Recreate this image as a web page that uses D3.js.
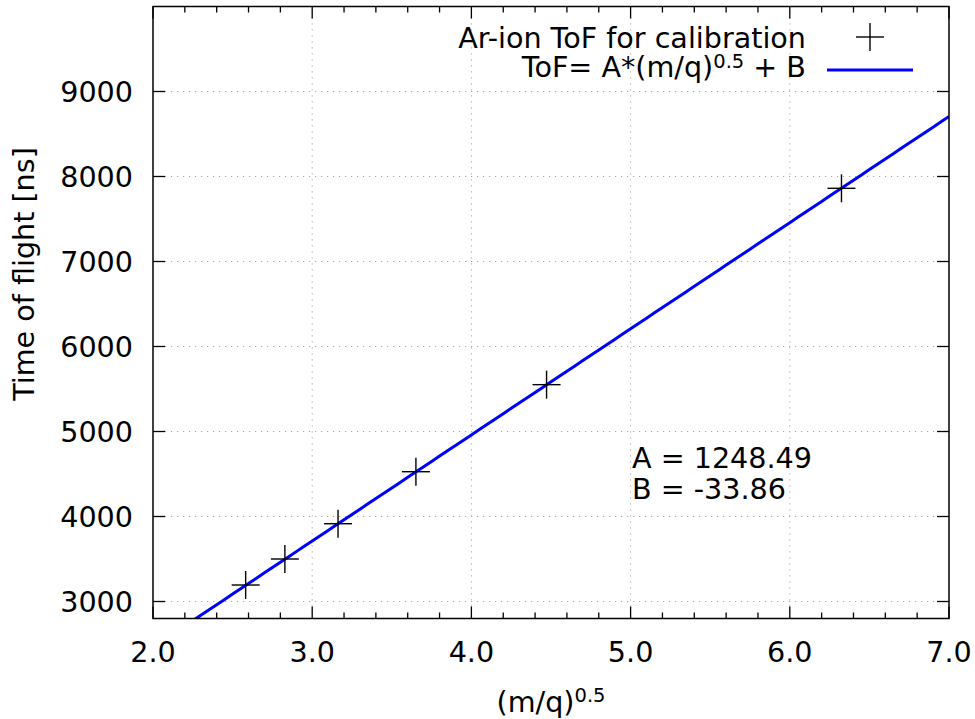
<!DOCTYPE html>
<html><head><meta charset="utf-8">
<script src="https://cdn.jsdelivr.net/npm/d3@7"></script>
<style>body{margin:0;background:#fff}svg{display:block}text{font-family:"DejaVu Sans",sans-serif;fill:#000}</style>
</head><body>
<svg id="c" width="975" height="719"></svg>
<script>
// Data
const massOverCharge = [40, 20, 40/3, 10, 8, 40/6]; // Ar ions q=1..6
const sqrtMQ = massOverCharge.map(Math.sqrt);
const tofValues = [7861, 5551, 4527, 3915, 3500, 3194];
const fitA = 1248.49, fitB = -33.86;
const xTicks = [2.0, 3.0, 4.0, 5.0, 6.0, 7.0];
const yTicks = [3000, 4000, 5000, 6000, 7000, 8000, 9000];
const xDomain = [2, 7], yDomain = [2800, 10000];

const svg = d3.select("#c");
const L = 153, R = 949, T = 6.5, B = 618.5;
const x = d3.scaleLinear().domain(xDomain).range([L, R]);
const y = d3.scaleLinear().domain(yDomain).range([B, T]);
const FS = 28.6;

// grid
const grid = svg.append("g").attr("stroke", "#a8a8a8").attr("stroke-width", 1).attr("stroke-dasharray", "1.2,4.8");
xTicks.slice(1, -1).forEach(v => grid.append("line").attr("x1", x(v)).attr("x2", x(v)).attr("y1", B).attr("y2", T));
yTicks.forEach(v => grid.append("line").attr("x1", L).attr("x2", R).attr("y1", y(v)).attr("y2", y(v)));

// ticks (inward, mirrored)
const minorX = d3.range(2, 7.0001, 0.2).filter(v => Math.abs(v - Math.round(v)) > 1e-6);
const tk = svg.append("g").attr("stroke", "#000").attr("stroke-width", 1.3);
xTicks.forEach(v => {
  tk.append("line").attr("x1", x(v)).attr("x2", x(v)).attr("y1", B).attr("y2", B - 12);
  tk.append("line").attr("x1", x(v)).attr("x2", x(v)).attr("y1", T).attr("y2", T + 12);
});
minorX.forEach(v => {
  tk.append("line").attr("x1", x(v)).attr("x2", x(v)).attr("y1", B).attr("y2", B - 6);
  tk.append("line").attr("x1", x(v)).attr("x2", x(v)).attr("y1", T).attr("y2", T + 6);
});
yTicks.forEach(v => {
  tk.append("line").attr("x1", L).attr("x2", L + 12).attr("y1", y(v)).attr("y2", y(v));
  tk.append("line").attr("x1", R).attr("x2", R - 12).attr("y1", y(v)).attr("y2", y(v));
});

// tick labels
xTicks.forEach(v => svg.append("text").attr("x", x(v)).attr("y", 662).attr("text-anchor", "middle").attr("font-size", FS).text(v.toFixed(1)));
yTicks.forEach(v => svg.append("text").attr("x", 133).attr("y", y(v) + 10).attr("text-anchor", "end").attr("font-size", FS).text(v));

// axis labels
const xl = svg.append("text").attr("x", 551).attr("y", 712).attr("text-anchor", "middle").attr("font-size", FS);
xl.append("tspan").text("(m/q)");
xl.append("tspan").attr("dy", -10).attr("font-size", 19.5).text("0.5");
svg.append("text").attr("transform", "translate(33.5,274) rotate(-90)").attr("text-anchor", "middle").attr("font-size", FS).text("Time of flight [ns]");

// clip
svg.append("clipPath").attr("id", "pc").append("rect").attr("x", L).attr("y", T).attr("width", R - L).attr("height", B - T);

// fit line
const fx = d3.range(2, 7.0001, 0.05);
svg.append("path").attr("clip-path", "url(#pc)")
  .attr("d", d3.line().x(d => x(d)).y(d => y(fitA * d + fitB))(fx))
  .attr("fill", "none").attr("stroke", "#0000ff").attr("stroke-width", 3);

// points
const pts = svg.append("g").attr("stroke", "#000").attr("stroke-width", 1.4);
sqrtMQ.forEach((v, i) => {
  const px = x(v), py = y(tofValues[i]);
  pts.append("line").attr("x1", px - 14).attr("x2", px + 14).attr("y1", py).attr("y2", py);
  pts.append("line").attr("x1", px).attr("x2", px).attr("y1", py - 14).attr("y2", py + 14);
});

// frame
svg.append("rect").attr("x", L).attr("y", T).attr("width", R - L).attr("height", B - T)
  .attr("fill", "none").attr("stroke", "#000").attr("stroke-width", 1.5);

// legend
svg.append("text").attr("x", 806).attr("y", 48).attr("text-anchor", "end").attr("font-size", FS).text("Ar-ion ToF for calibration");
const lg = svg.append("g").attr("stroke", "#000").attr("stroke-width", 1.4);
lg.append("line").attr("x1", 856).attr("x2", 884).attr("y1", 37).attr("y2", 37);
lg.append("line").attr("x1", 870).attr("x2", 870).attr("y1", 23).attr("y2", 51);
const l2 = svg.append("text").attr("x", 806).attr("y", 77).attr("text-anchor", "end").attr("font-size", FS);
l2.append("tspan").text("ToF= A*(m/q)");
l2.append("tspan").attr("dy", -9).attr("font-size", 19.5).text("0.5");
l2.append("tspan").attr("dy", 9).text(" + B");
svg.append("line").attr("x1", 827).attr("x2", 913).attr("y1", 70).attr("y2", 70).attr("stroke", "#0000ff").attr("stroke-width", 3);

// annotation
svg.append("text").attr("x", 632).attr("y", 468).attr("font-size", FS).text("A = " + fitA.toFixed(2));
svg.append("text").attr("x", 632).attr("y", 499).attr("font-size", FS).text("B = " + fitB.toFixed(2));
</script>
</body></html>
